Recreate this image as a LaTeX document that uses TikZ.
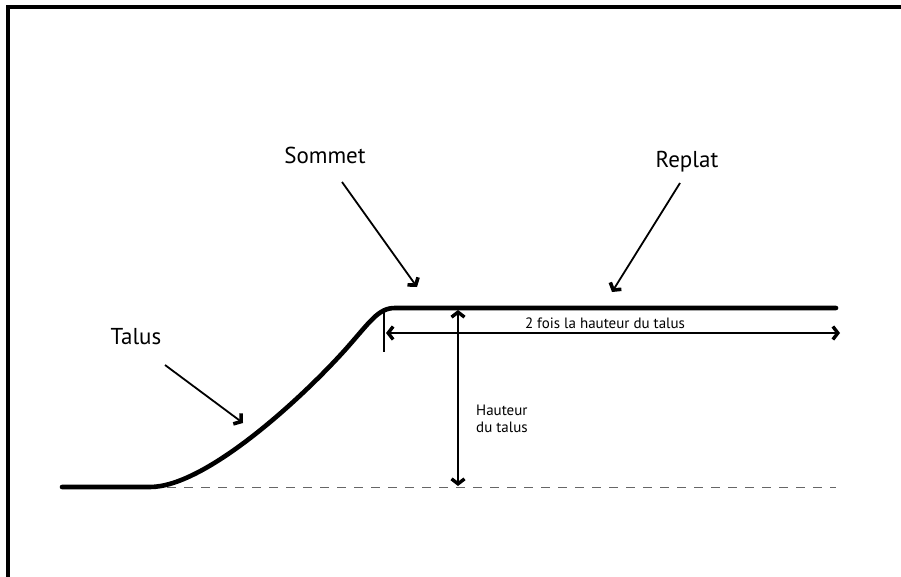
\documentclass[tikz,border=0pt]{standalone}
\usepackage{fontspec}
\setmainfont{PT Sans}
\usetikzlibrary{arrows.meta}
\begin{document}
\begin{tikzpicture}[x=1pt,y=-1pt,
  lbl/.style={inner sep=0pt, font=\fontsize{23}{26}\selectfont},
  small/.style={inner sep=0pt, font=\fontsize{15}{17}\selectfont},
  ptr/.style={line width=1.8pt, -{Straight Barb[length=5pt,width=13pt,line width=3.6pt]}},
  dim/.style={line width=1.6pt, {Straight Barb[length=5pt,width=13pt,line width=3.4pt]}-{Straight Barb[length=5pt,width=13pt,line width=3.4pt]}},
  ground/.style={line width=4.6pt, line cap=round}]
\useasboundingbox (0,0) rectangle (901,577);
\fill[white] (0,0) rectangle (901,577);
% frame
\draw[line width=4pt] (8,577) -- (8,7) -- (901,7);
% coordinates
\coordinate (g0) at (62,487);
\coordinate (g1) at (150,487);
\coordinate (top) at (395,308);
\coordinate (g2) at (836,308);
\coordinate (d0) at (150,487);
\coordinate (d1) at (836,487);
\coordinate (tk0) at (384,308);
\coordinate (tk1) at (384,352);
\coordinate (h0) at (386,333);
\coordinate (h1) at (840,333);
\coordinate (v0) at (458,310);
\coordinate (v1) at (458,486);
% dashed baseline
\draw[gray!80!black, line width=0.8pt, dash pattern=on 9pt off 8pt] (d0) -- (d1);
% ground profile
\draw[ground] (g0) -- (g1) .. controls (205,487) and (300,400) .. (345,350)
  .. controls (370,322) and (378,308) .. (top) -- (g2);
% tick
\draw[line width=1.4pt] (tk0) -- (tk1);
% dimension arrows
\draw[dim] (h0) -- (h1);
\draw[dim] (v1) -- (v0);
% labels
\node[lbl] (sommet) at (325,155) {Sommet};
\node[lbl] (replat) at (687,162) {Replat};
\node[lbl] (talus) at (136,337) {Talus};
\node[small] (twice) at (605,323) {2 fois la hauteur du talus};
\node[small, align=left, anchor=west] (haut) at (476,419) {Hauteur\\du talus};
% pointer arrows
\coordinate (sa0) at (342,182); \coordinate (sa1) at (417,287);
\coordinate (ra0) at (680,183); \coordinate (ra1) at (612,292);
\coordinate (ta0) at (165,365); \coordinate (ta1) at (243,423);
\draw[ptr] (sa0) -- (sa1);
\draw[ptr] (ra0) -- (ra1);
\draw[ptr] (ta0) -- (ta1);
\end{tikzpicture}
\end{document}
